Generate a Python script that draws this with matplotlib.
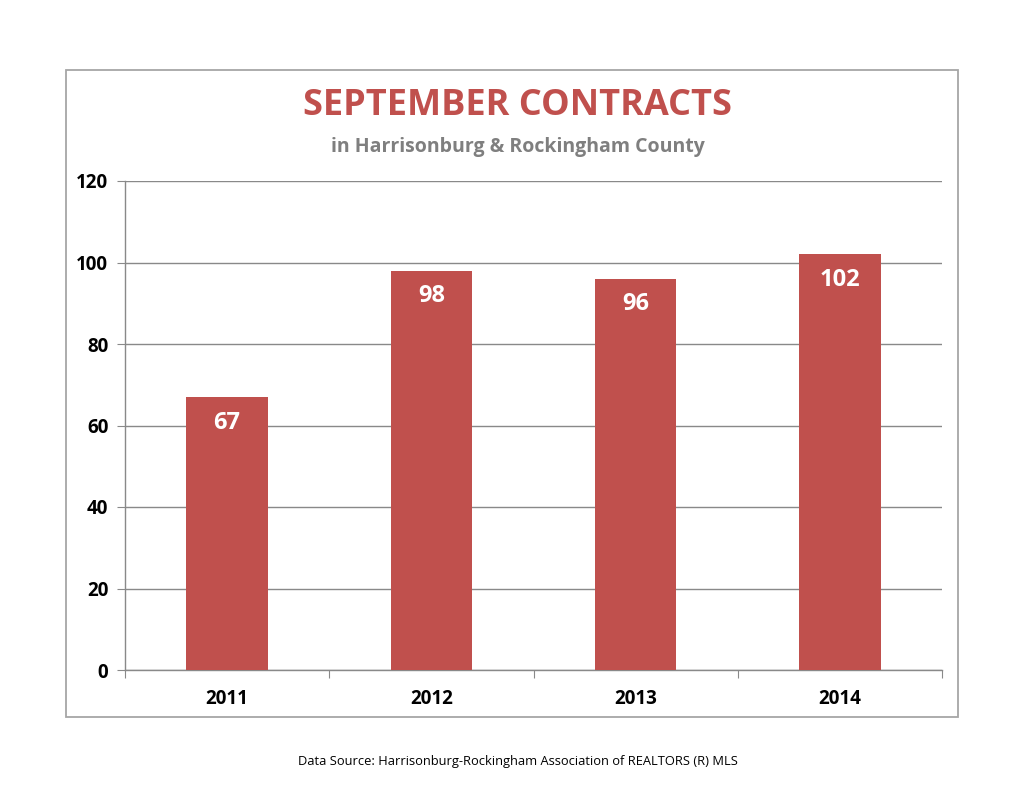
import numpy as np
import matplotlib.pyplot as plt
from matplotlib.patches import Rectangle

# datos
years = ['2011', '2012', '2013', '2014']
contracts = [67, 98, 96, 102]
y_ticks = [0, 20, 40, 60, 80, 100, 120]

plt.rcParams['font.family'] = ['Open Sans', 'DejaVu Sans']

bar_color = '#C0504D'
grid_color = '#898989'

fig = plt.figure(figsize=(10.35, 8), dpi=100)

# marco del gráfico
frame = Rectangle((66 / 1035, 1 - 717 / 800), (958 - 66) / 1035, (717 - 70) / 800,
                  transform=fig.transFigure, fill=False, edgecolor='#A6A6A6', linewidth=1.3)
fig.patches.append(frame)

ax = fig.add_axes([125 / 1035, 1 - 670 / 800, (942 - 125) / 1035, (670 - 181) / 800])

x = np.arange(len(years))
bars = ax.bar(x, contracts, width=0.4, color=bar_color, zorder=3)

ax.set_xlim(-0.5, len(years) - 0.5)
ax.set_ylim(0, 120)
ax.set_yticks(y_ticks)
ax.set_yticklabels([str(v) for v in y_ticks], fontsize=13.5, fontweight='bold')
ax.yaxis.grid(True, color=grid_color, linewidth=1, zorder=0)

# ticks del eje x en los bordes de las categorías
ax.set_xticks(np.arange(len(years) + 1) - 0.5)
ax.set_xticklabels([])
ax.set_xticks(x, minor=True)
ax.set_xticklabels(years, minor=True, fontsize=13.5, fontweight='bold')
ax.tick_params(axis='x', which='major', length=6, color=grid_color, direction='out')
ax.tick_params(axis='x', which='minor', length=0, pad=14)
ax.tick_params(axis='y', length=6, color=grid_color, direction='out', pad=6)

for side in ['top', 'right']:
    ax.spines[side].set_visible(False)
for side in ['left', 'bottom']:
    ax.spines[side].set_color(grid_color)
    ax.spines[side].set_linewidth(1)

# etiquetas de valores dentro de las barras
for xi, v in zip(x, contracts):
    ax.annotate(str(v), (xi, v), xytext=(0, -18.5), textcoords='offset points',
                ha='center', va='center', color='white', fontsize=17, fontweight='bold')

fig.text(0.5, 1 - 106 / 800, 'SEPTEMBER CONTRACTS', ha='center', va='center',
         fontsize=26, fontweight='bold', color=bar_color)
fig.text(0.5, 1 - 147 / 800, 'in Harrisonburg & Rockingham County', ha='center', va='center',
         fontsize=14, fontweight='bold', color='#7F7F7F')
fig.text(0.5, 1 - 761 / 800, 'Data Source: Harrisonburg-Rockingham Association of REALTORS (R) MLS',
         ha='center', va='center', fontsize=9.3, color='black')

fig.savefig('out.png', dpi=100)
